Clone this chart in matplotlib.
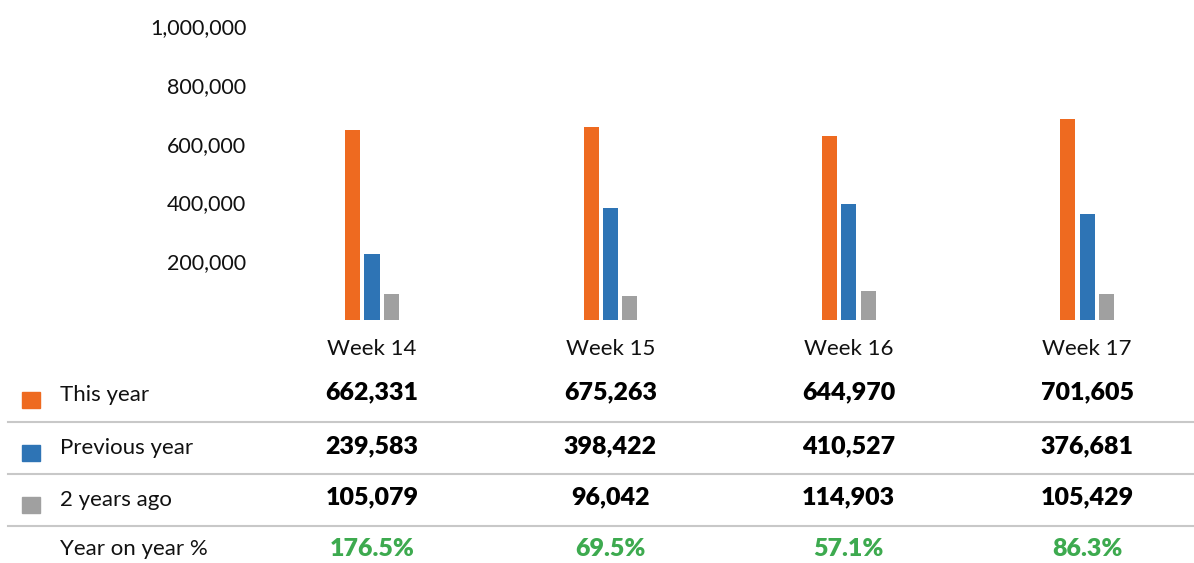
import matplotlib
matplotlib.use("Agg")
import matplotlib.pyplot as plt
import matplotlib.transforms as mtrans
from matplotlib.lines import Line2D
from matplotlib.patches import Rectangle
import numpy as np

weeks = ["Week 14", "Week 15", "Week 16", "Week 17"]
series_names = ["This year", "Previous year", "2 years ago"]
this_year = [662331, 675263, 644970, 701605]
previous_year = [239583, 398422, 410527, 376681]
two_years_ago = [105079, 96042, 114903, 105429]
yoy_pct = [176.5, 69.5, 57.1, 86.3]
yticks = [200000, 400000, 600000, 800000, 1000000]

colors = ["#EE6A20", "#2E74B5", "#A0A0A0"]
green = "#3DAA4F"

W, H = 1194, 563
fig = plt.figure(figsize=(W / 100, H / 100), dpi=100)
plt.rcParams['font.family'] = ['Lato', 'DejaVu Sans']

def fx(px):
    return px / W

def fy(py):
    return 1 - py / H

ax_l, ax_r, ax_b, ax_t = 252, 1194, 320, 31.5
ax = fig.add_axes([fx(ax_l), fy(ax_b), fx(ax_r) - fx(ax_l), fy(ax_t) - fy(ax_b)])

x = np.arange(len(weeks))
bw = 0.063
step = 0.081
all_series = [this_year, previous_year, two_years_ago]
for i, (vals, c) in enumerate(zip(all_series, colors)):
    ax.bar(x + (i - 1) * step, vals, width=bw, color=c, edgecolor='none')

step_px = 238.4
ax.set_xlim(-(372 - ax_l) / step_px, (ax_r - 372) / step_px)
ax.set_ylim(4.5 / 293 * 1e6, 1e6)
ax.set_xticks([])
ax.set_yticks(yticks)
ax.set_yticklabels([f"{v:,}" for v in yticks], fontsize=15.5, color='#111111')
ax.tick_params(axis='y', length=0, pad=4)
offset = mtrans.ScaledTranslation(0, 5 / 100, fig.dpi_scale_trans)
for lab in ax.get_yticklabels():
    lab.set_transform(lab.get_transform() + offset)
for s in ax.spines.values():
    s.set_visible(False)
ax.patch.set_alpha(0)

bt = mtrans.blended_transform_factory(ax.transData, fig.transFigure)

# header
for i, w in enumerate(weeks):
    fig.text(x[i], fy(349), w, transform=bt, ha='center', va='center',
             fontsize=16, color='#111111')

row_y = [395, 448, 500]
val_y = [392, 446, 497]
for r, (name, vals, c) in enumerate(zip(series_names, all_series, colors)):
    fig.patches.append(Rectangle((fx(22), fy(row_y[r] + 13)), fx(18), 16 / H,
                                 transform=fig.transFigure, color=c,
                                 figure=fig))
    fig.text(fx(60), fy(row_y[r]), name, ha='left', va='center',
             fontsize=16, color='#111111')
    for i, v in enumerate(vals):
        fig.text(x[i], fy(val_y[r]), f"{v:,}", transform=bt, ha='center',
                 va='center', fontsize=18, fontweight='heavy', color='#000000')

fig.text(fx(60), fy(549), "Year on year %", ha='left', va='center',
         fontsize=16, color='#111111')
for i, p in enumerate(yoy_pct):
    fig.text(x[i], fy(549), f"{p:.1f}%", transform=bt, ha='center',
             va='center', fontsize=18, fontweight='heavy', color=green)

for ly in [421.5, 473.5, 526]:
    fig.add_artist(Line2D([fx(8), 1.0], [fy(ly), fy(ly)],
                          transform=fig.transFigure, color='#c8c8c8', lw=1.5))

fig.savefig("out.png", dpi=100)
